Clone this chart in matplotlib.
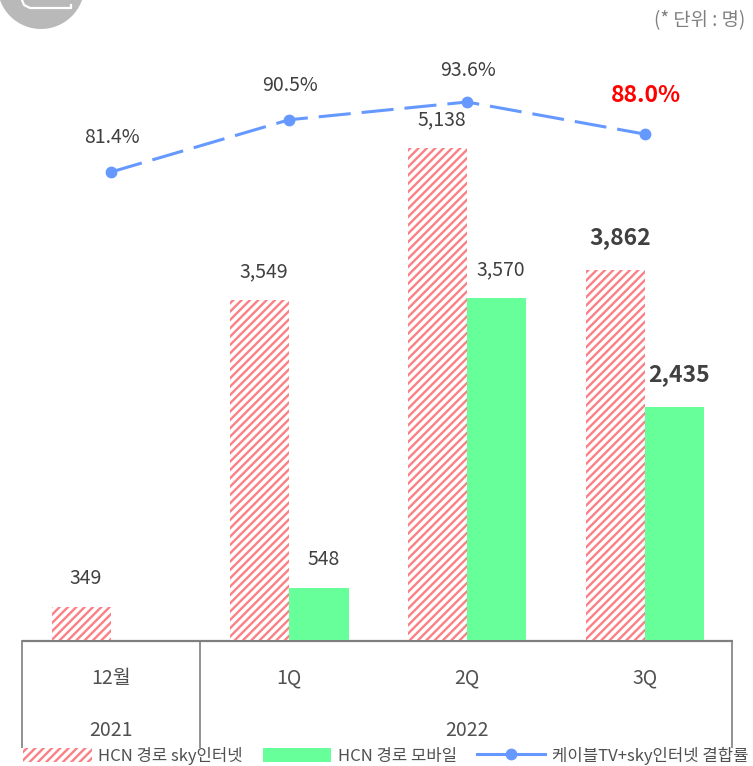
import matplotlib
matplotlib.use("Agg")
import matplotlib.pyplot as plt
from matplotlib.patches import Circle, Patch
from matplotlib.lines import Line2D
import numpy as np

plt.rcParams['font.family'] = ['Noto Sans CJK KR', 'DejaVu Sans']
plt.rcParams['hatch.linewidth'] = 1.7

categories = ['12월', '1Q', '2Q', '3Q']
years = ['2021', '2022']
sky = [349, 3549, 5138, 3862]
mobile = [None, 548, 3570, 2435]
rate = [81.4, 90.5, 93.6, 88.0]
sky_name = 'HCN 경로 sky인터넷'
mobile_name = 'HCN 경로 모바일'
rate_name = '케이블TV+sky인터넷 결합률'
unit_note = '(* 단위 : 명)'

W, H = 753, 766
fig = plt.figure(figsize=(W/100, H/100), dpi=100)
TXT = '#404040'
GRID = '#7f7f7f'
PINK = '#fb8085'
GREEN = '#66ff99'
BLUE = '#6699ff'

ax = fig.add_axes([22/W, 1-640/H, 712/W, 640/H])
ax.set_xlim(-0.5, 3.5)
ax.set_ylim(0, 6683)
for s in ax.spines.values():
    s.set_visible(False)
ax.patch.set_alpha(0)
x = np.arange(len(categories))
bw = 59.5/178

ax.bar(x-bw/2, sky, bw, facecolor='white', edgecolor=PINK, hatch='////', linewidth=0, zorder=2)
ax.bar(x[1:]+bw/2, mobile[1:], bw, color=GREEN, zorder=2)

bold_idx = 3
for i, v in enumerate(sky):
    b = i == bold_idx
    ax.annotate(f'{v:,}', (x[i]-bw/2, v), xytext=(3.2, 23.5 if b else 20.5), textcoords='offset points',
                ha='center', va='center', fontsize=16.5 if b else 14, color=TXT,
                fontweight='bold' if b else 'normal', zorder=6)
for i, v in enumerate(mobile):
    if v is None:
        continue
    b = i == bold_idx
    ax.annotate(f'{v:,}', (x[i]+bw/2, v), xytext=(3.2, 23.5 if b else 20.5), textcoords='offset points',
                ha='center', va='center', fontsize=16.5 if b else 14, color=TXT,
                fontweight='bold' if b else 'normal', zorder=6)

ax2 = ax.twinx()
ax2.set_ylim(-0.13, 111.37)
ax2.axis('off')
ax2.plot(x, rate, color=BLUE, lw=2.2, dashes=(10.5, 3.6), marker='o', ms=7.5, mfc=BLUE, mec=BLUE, zorder=4)
offs = [25, 25, 22.5, 27.5]
for i, v in enumerate(rate):
    b = i == bold_idx
    ax2.annotate(f'{v:.1f}%', (x[i], v), xytext=(0.5, offs[i]), textcoords='offset points',
                 ha='center', va='center', fontsize=16.5 if b else 14,
                 color='#ff0000' if b else TXT, fontweight='bold' if b else 'normal')

ax.set_xticks(x, categories)
ax.tick_params(axis='x', length=0, pad=20, labelsize=14, labelcolor='#505050')
ax.set_yticks([])

# overlay in pixel coordinates: table frame, badge, year labels
ov = fig.add_axes([0, 0, 1, 1], zorder=-1)
ov.set_xlim(0, W); ov.set_ylim(H, 0); ov.axis('off')
ov.plot([22, 733], [640.5, 640.5], color=GRID, lw=1.6, solid_capstyle='butt')
for px in (22.5, 200.5, 732.5):
    ov.plot([px, px], [640, 748], color=GRID, lw=1.2, solid_capstyle='butt')
ov.add_patch(Circle((41, -14.5), 43.5, color='#b9b9b9', lw=0))
ov.plot([22, 24, 30, 70, 71, 71], [0, 5, 8, 8, 8, 5], color='white', lw=1.6)
ov.text(111, 730, years[0], ha='center', va='center', fontsize=14, color='#505050')
ov.text(467, 730, years[1], ha='center', va='center', fontsize=14, color='#505050')
ov.text(745, 21, unit_note, ha='right', va='center', fontsize=13.5, color=GRID)

handles = [Patch(facecolor='white', edgecolor=PINK, hatch='////', linewidth=0),
           Patch(facecolor=GREEN, edgecolor='none'),
           Line2D([], [], color=BLUE, lw=2.2, marker='o', ms=7.5)]
leg = fig.legend(handles, [sky_name, mobile_name, rate_name], ncol=3, loc='lower left',
                 bbox_to_anchor=(20/W, 1-768/H), bbox_transform=fig.transFigure,
                 frameon=False, fontsize=12, handlelength=4.1, handleheight=0.85,
                 handletextpad=0.4, columnspacing=1.2, labelcolor='#505050', borderpad=0.2, borderaxespad=0)

fig.savefig('out.png', dpi=100)
